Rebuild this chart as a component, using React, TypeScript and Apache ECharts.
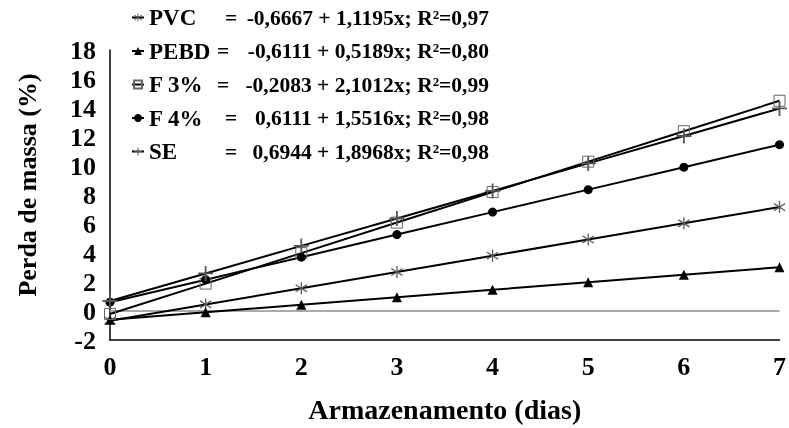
import React, { useEffect, useRef } from "react";
import * as echarts from "echarts";

const days = [0, 1, 2, 3, 4, 5, 6, 7];
const seriesNames = ["PVC", "PEBD", "F 3%", "F 4%", "SE"];
const equations = [
  "-0,6667 + 1,1195x; R²=0,97",
  "-0,6111 + 0,5189x; R²=0,80",
  "-0,2083 + 2,1012x; R²=0,99",
  "0,6111 + 1,5516x; R²=0,98",
  "0,6944 + 1,8968x; R²=0,98",
];
const pvc = [-0.67, 0.45, 1.57, 2.69, 3.81, 4.93, 6.05, 7.17];
const pebd = [-0.61, -0.09, 0.43, 0.95, 1.46, 1.98, 2.5, 3.02];
const f3 = [-0.21, 1.89, 3.99, 6.1, 8.2, 10.3, 12.4, 14.5];
const f4 = [0.61, 2.16, 3.71, 5.27, 6.82, 8.37, 9.92, 11.47];
const se = [0.69, 2.59, 4.49, 6.38, 8.28, 10.18, 12.07, 13.97];
const yTicks = { min: -2, max: 18, interval: 2 };
const yTitle = "Perda de massa (%)";
const xTitle = "Armazenamento (dias)";

const FONT = "'Liberation Serif', 'Times New Roman', serif";

const plusPath = "path://M4.4,0H5.6V4.4H10V5.6H5.6V10H4.4V5.6H0V4.4H4.4Z";
const starPath =
  "path://M4.5,0H5.5V10H4.5Z M0.78,1.58L9.78,7.58L9.22,8.42L0.22,2.42Z M0.22,7.58L9.22,1.58L9.78,2.42L0.78,8.42Z";

export default function App() {
  const ref = useRef<HTMLDivElement>(null);
  useEffect(() => {
    if (!ref.current) return;
    const chart = echarts.init(ref.current, undefined, { renderer: "svg" });
    const values = [pvc, pebd, f3, f4, se];
    const symbols: any[] = [
      { symbol: starPath, size: 12, item: { color: "#555" } },
      { symbol: "triangle", size: 10, item: { color: "#000" } },
      { symbol: "rect", size: 11, item: { color: "transparent", borderColor: "#666", borderWidth: 1 } },
      { symbol: "circle", size: 9, item: { color: "#000" } },
      { symbol: plusPath, size: 15, item: { color: "#555" } },
    ];
    const series: any[] = seriesNames.map((name, i) => ({
      name,
      type: "line",
      data: days.map((d, j) => [d, values[i][j]]),
      symbol: symbols[i].symbol,
      symbolSize: symbols[i].size,
      showAllSymbol: true,
      itemStyle: symbols[i].item,
      lineStyle: { color: "#000", width: 2 },
      z: 3,
    }));
    series[0].markLine = {
      silent: true,
      symbol: "none",
      label: { show: false },
      lineStyle: { color: "#aaa", width: 2, type: "solid" },
      data: [{ yAxis: 0 }],
      z: 1,
    };
    const nameFont = { fontFamily: FONT, fontWeight: "bold", fontSize: 23, color: "#000" };
    const eqFont = { fontFamily: FONT, fontWeight: "bold", fontSize: 21.5, color: "#000" };
    const textStart = 148;
    const eqEnd = 488;
    const eqPos = [224, 216, 216, 224, 224];
    const qW = 13;
    const rich: any = { q: { ...eqFont, width: qW } };
    eqPos.forEach((s, i) => {
      rich["n" + i] = { ...nameFont, width: s - textStart };
      rich["v" + i] = { ...eqFont, width: eqEnd - s - qW, align: "right" };
    });
    chart.setOption({
      animation: false,
      grid: { left: 110, right: 6, top: 50, bottom: 87 },
      legend: {
        orient: "vertical",
        left: 131,
        top: 6,
        padding: 0,
        itemWidth: 12,
        itemHeight: 10,
        itemGap: 10.5,
        data: seriesNames,
        formatter: (name: string) => {
          const i = seriesNames.indexOf(name);
          return `{n${i}|${name}}{q|=}{v${i}|${equations[i]}}`;
        },
        textStyle: { ...nameFont, rich },
      },
      graphic: [
        {
          type: "text",
          x: 27,
          y: 185,
          rotation: Math.PI / 2,
          style: {
            text: yTitle,
            fontFamily: FONT,
            fontWeight: "bold",
            fontSize: 26,
            fill: "#000",
            align: "center",
            verticalAlign: "middle",
          },
        },
      ],
      xAxis: {
        type: "value",
        min: 0,
        max: 7,
        interval: 1,
        name: xTitle,
        nameLocation: "middle",
        nameGap: 55,
        nameTextStyle: { fontFamily: FONT, fontWeight: "bold", fontSize: 28, color: "#000" },
        axisLine: { onZero: false, lineStyle: { color: "#000", width: 1.5 } },
        axisTick: { show: false },
        splitLine: { show: false },
        axisLabel: { fontFamily: FONT, fontWeight: "bold", fontSize: 26, color: "#000", margin: 13 },
      },
      yAxis: {
        type: "value",
        ...yTicks,
        axisLine: { show: true, lineStyle: { color: "#000", width: 1.5 } },
        axisTick: { show: false },
        splitLine: { show: false },
        axisLabel: { fontFamily: FONT, fontWeight: "bold", fontSize: 26, color: "#000", margin: 14 },
      },
      series,
    });
    return () => chart.dispose();
  }, []);
  return (
    <div
      ref={ref}
      style={{ position: "fixed", left: 0, top: 0, width: 789, height: 428 }}
    />
  );
}
